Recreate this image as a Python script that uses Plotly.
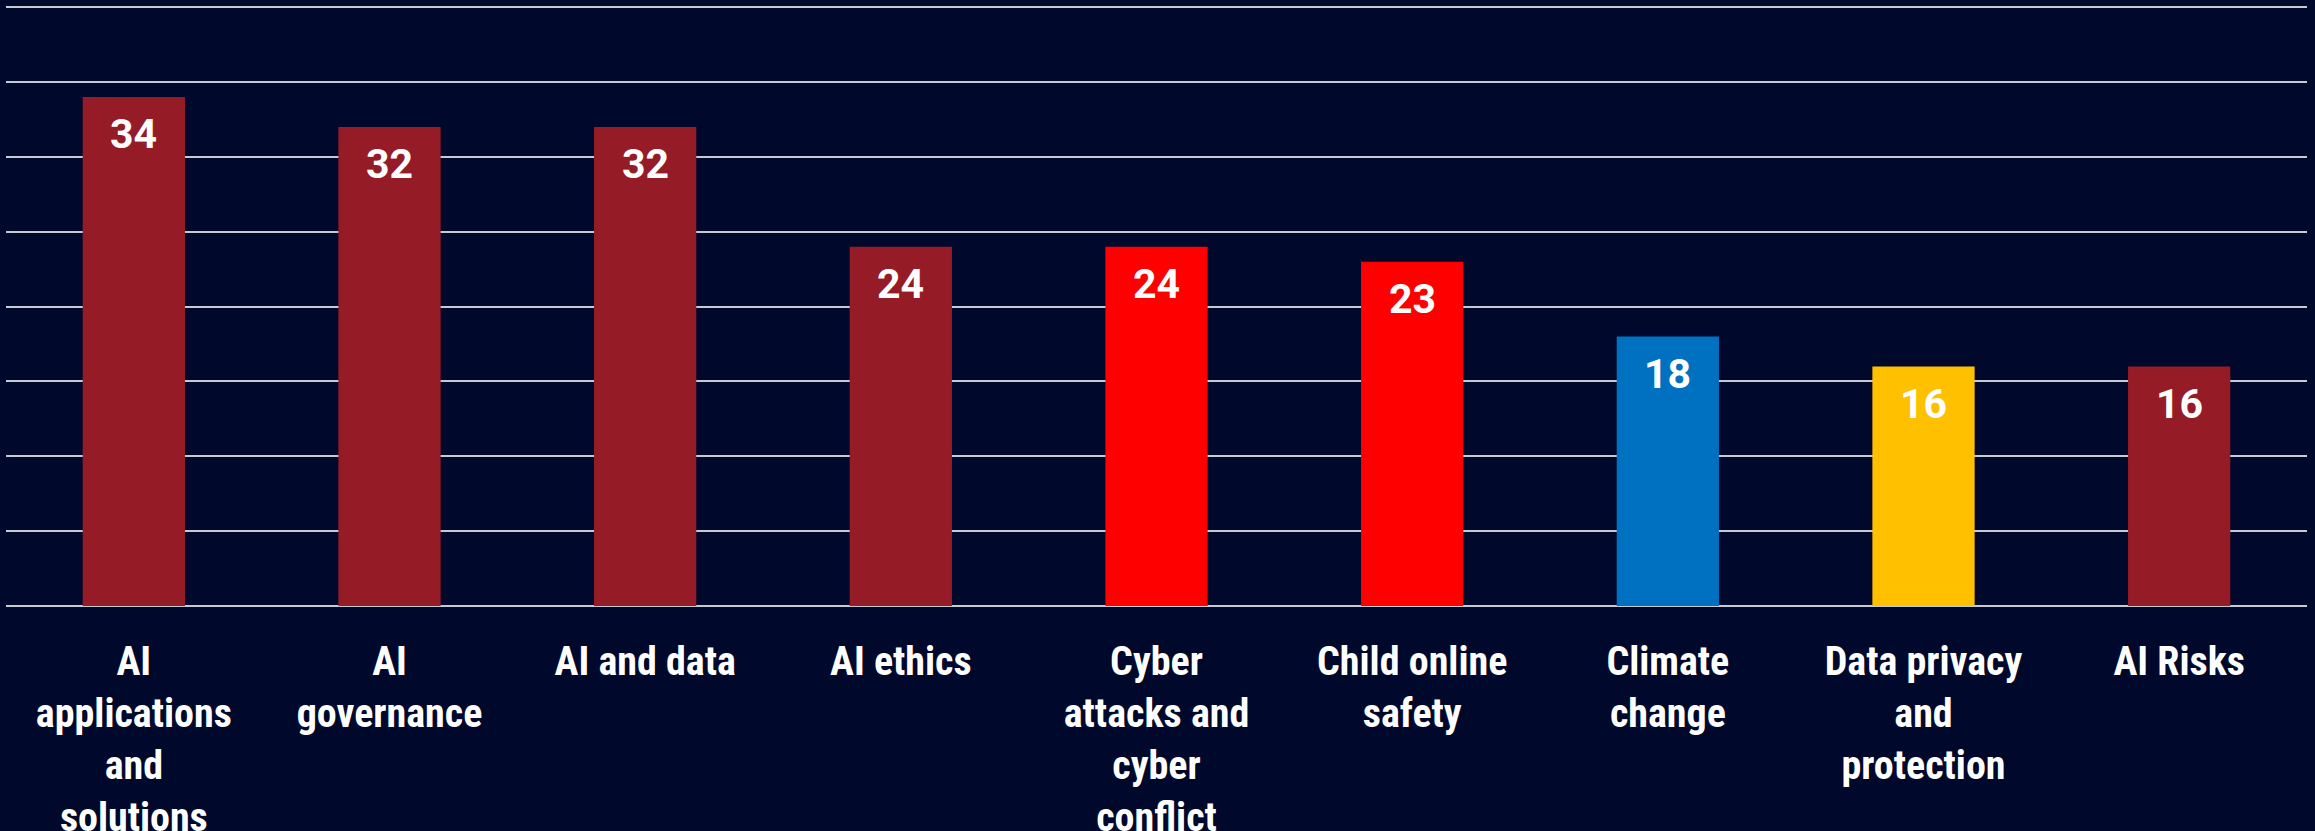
import plotly.graph_objects as go

# --- DATA ---
topics = [
    "AI<br>applications<br>and<br>solutions",
    "AI<br>governance",
    "AI and data",
    "AI ethics",
    "Cyber<br>attacks and<br>cyber<br>conflict",
    "Child online<br>safety",
    "Climate<br>change",
    "Data privacy<br>and<br>protection",
    "AI Risks",
]
counts = [34, 32, 32, 24, 24, 23, 18, 16, 16]
bar_colors = ["#951B26", "#951B26", "#951B26", "#951B26", "#FF0000",
              "#FF0000", "#0070C0", "#FFC000", "#951B26"]

BG = "#00082B"
GRID = "#C8CAD2"

fig = go.Figure()
fig.add_trace(go.Bar(
    x=topics, y=counts,
    marker=dict(color=bar_colors, line=dict(width=0)),
    width=0.4,
    hoverinfo="skip",
))

# value labels just inside the top of each bar
for t, v in zip(topics, counts):
    fig.add_annotation(
        x=t, y=v, text=f"<b>{v}</b>", showarrow=False,
        yanchor="top", yshift=-11,
        font=dict(family="Roboto", size=41, color="white"),
    )

fig.update_layout(
    width=2315, height=831,
    margin=dict(l=6, r=8, t=5, b=225),
    paper_bgcolor=BG, plot_bgcolor=BG,
    showlegend=False,
    bargap=0.6,
)
fig.update_xaxes(
    showgrid=False, showline=False, ticks="", automargin=False,
    ticklabelstandoff=28,
    tickfont=dict(family="Roboto Condensed, Roboto", size=40,
                  color="white", weight="bold"),
)
# range slightly above 40 so the top gridline is still drawn
fig.update_yaxes(
    range=[0, 40.15], tick0=0, dtick=5, showticklabels=False, automargin=False,
    showgrid=True, gridcolor=GRID, gridwidth=2,
    zeroline=True, zerolinecolor=GRID, zerolinewidth=2,
)

# drop the page's default body margin so the chart fills the window
fig.write_html(
    "out.html",
    config={"displayModeBar": False},
    post_script=f"document.body.style.margin='0';document.body.style.background='{BG}';",
)
